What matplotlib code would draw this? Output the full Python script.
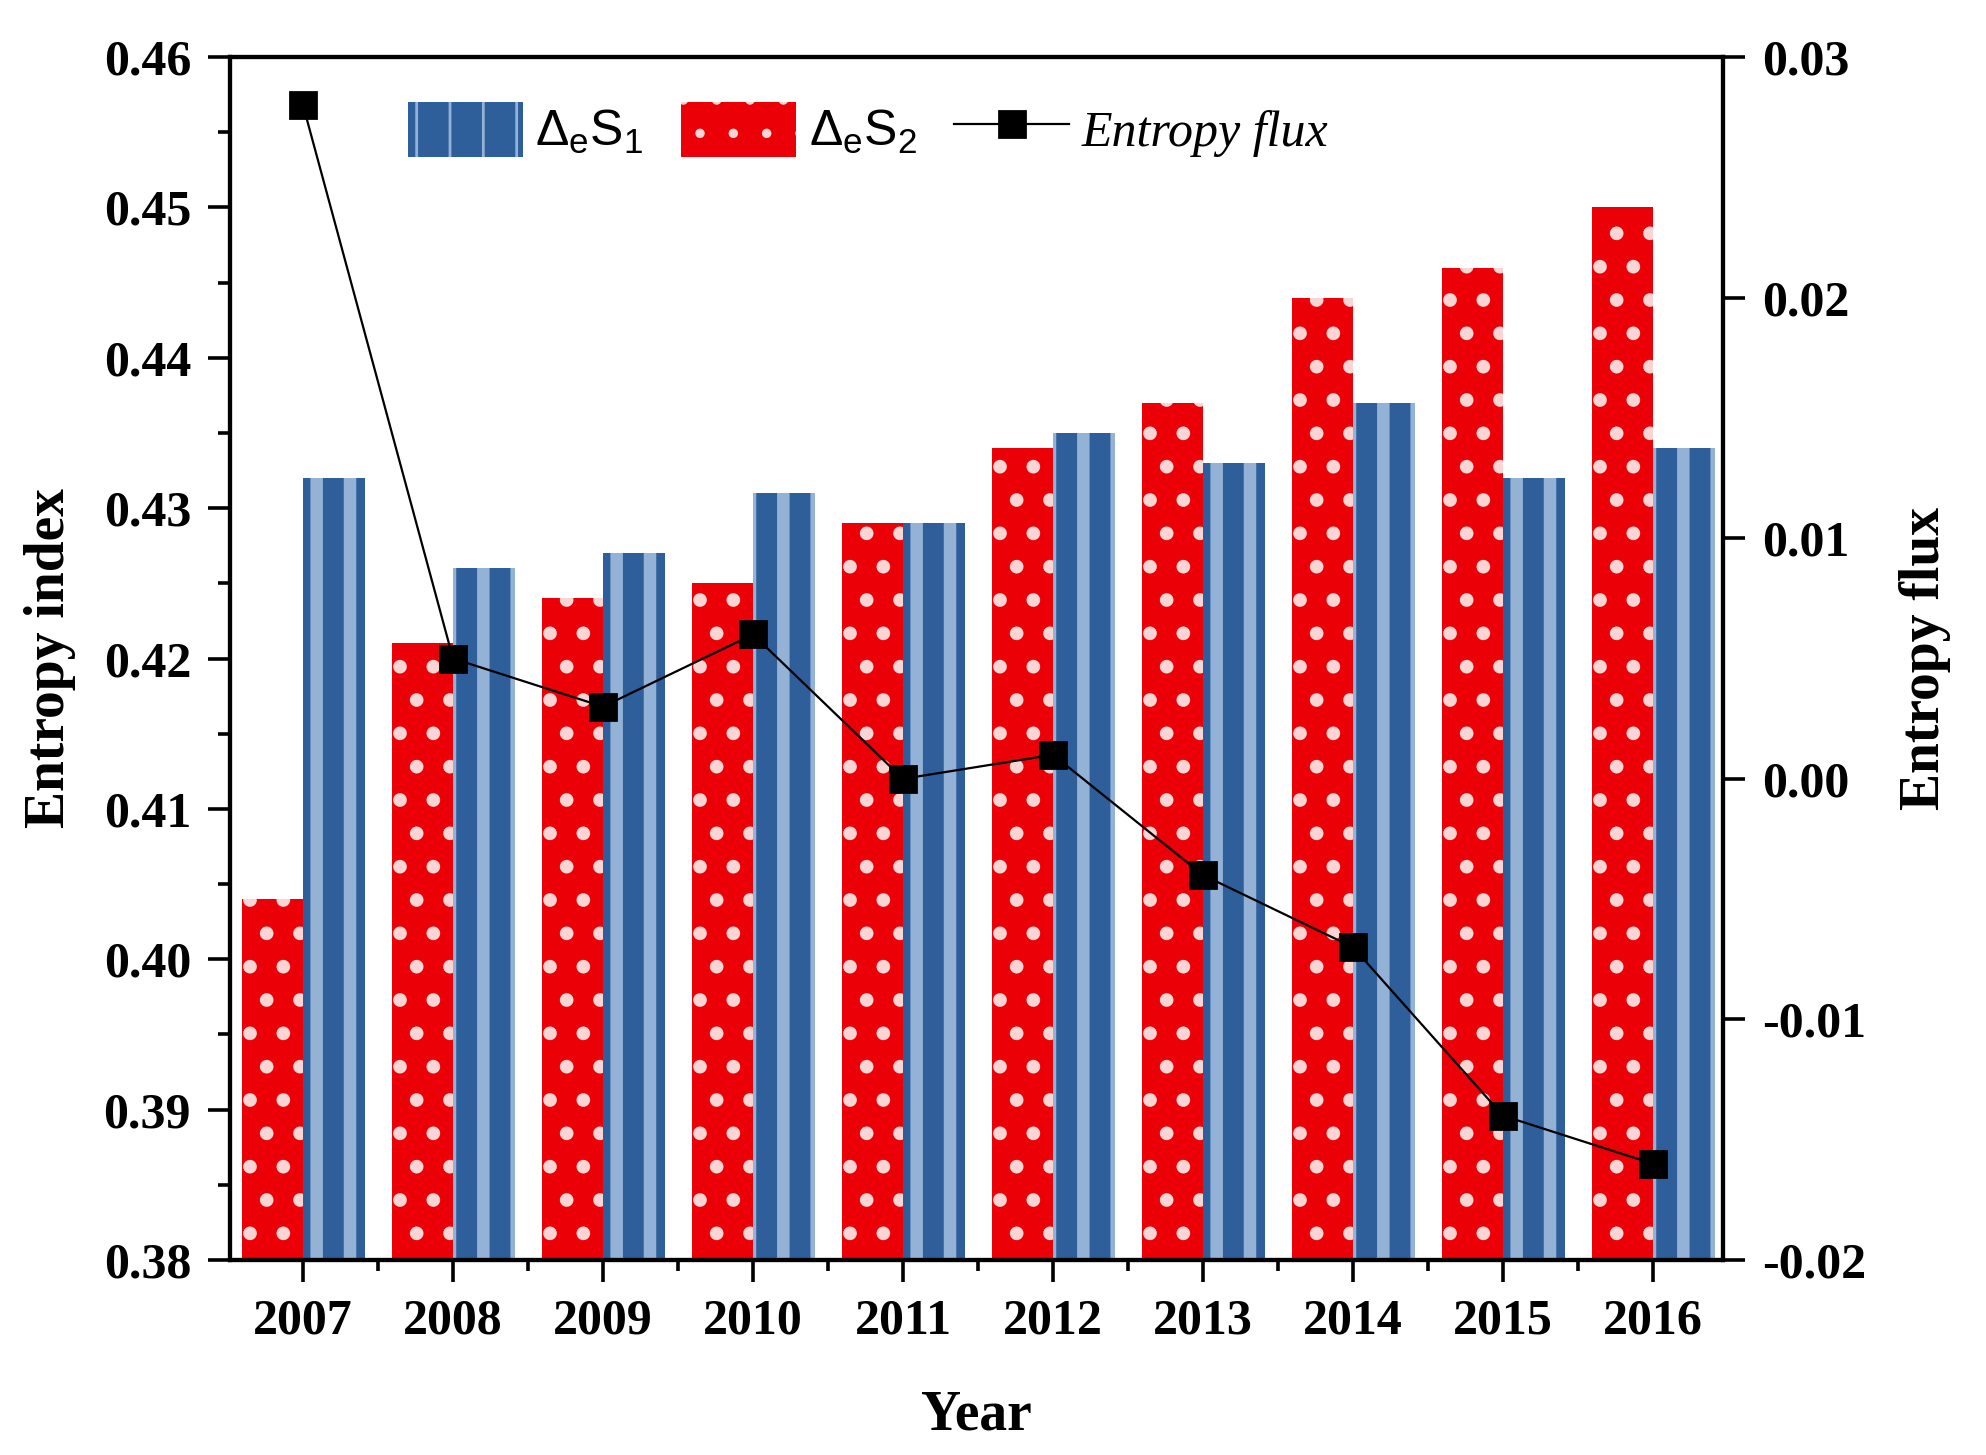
import numpy as np
import matplotlib
matplotlib.use("Agg")
import matplotlib.pyplot as plt
from matplotlib.lines import Line2D
from matplotlib.patches import Patch

# data
years = ["2007", "2008", "2009", "2010", "2011", "2012", "2013", "2014", "2015", "2016"]
des1 = [0.432, 0.426, 0.427, 0.431, 0.429, 0.435, 0.433, 0.437, 0.432, 0.434]
des2 = [0.404, 0.421, 0.424, 0.425, 0.429, 0.434, 0.437, 0.444, 0.446, 0.450]
flux = [0.028, 0.005, 0.003, 0.006, 0.000, 0.001, -0.004, -0.007, -0.014, -0.016]

plt.rcParams['font.family'] = ['Liberation Serif', 'DejaVu Serif']
plt.rcParams['font.weight'] = 'bold'
plt.rcParams['mathtext.fontset'] = 'custom'
plt.rcParams['mathtext.rm'] = 'Liberation Sans:weight=normal'
plt.rcParams['mathtext.it'] = 'Liberation Sans:italic:weight=normal'

blue = '#2e5f9b'
blue_hatch = '#93b2d6'
red = '#ec0008'
dot = '#fbd4d4'

fig = plt.figure(figsize=(9.93, 7.275), dpi=200)
ax = fig.add_axes([0.1158, 0.134, 0.8676 - 0.1158, 0.9608 - 0.134])

x = np.arange(len(years))
w = 0.41
# dotted red bars and striped blue bars (hatch width set at creation)
with plt.rc_context({'hatch.linewidth': 2.5}):
    ax.bar(x - w / 2, des2, width=w, color=red, edgecolor=dot, linewidth=0,
           hatch='.', zorder=2)
    p_red = Patch(facecolor=red, edgecolor=dot, linewidth=0, hatch='.')
with plt.rc_context({'hatch.linewidth': 4.5}):
    ax.bar(x + w / 2, des1, width=w, color=blue, edgecolor=blue_hatch, linewidth=0,
           hatch='|', zorder=2)
    p_blue = Patch(facecolor=blue, edgecolor=blue_hatch, linewidth=0, hatch='|')

ax.set_xlim(-0.487, len(years) - 1 + 0.467)
ax.set_ylim(0.38, 0.46)
ax.set_yticks(np.arange(0.38, 0.4601, 0.01))
ax.set_yticklabels(["%.2f" % v for v in np.arange(0.38, 0.4601, 0.01)])
ax.set_yticks(np.arange(0.385, 0.46, 0.01), minor=True)
ax.set_xticks(x)
ax.set_xticklabels(years)
ax.set_xticks(x[:-1] + 0.5, minor=True)

ax.tick_params(axis='both', which='major', direction='out', length=8,
               width=1.3, labelsize=18, pad=6)
ax.tick_params(axis='y', which='minor', direction='out', length=4.5, width=1.3)
ax.tick_params(axis='x', which='minor', direction='out', length=4, width=1.3)
for s in ax.spines.values():
    s.set_linewidth(1.5)

ax.set_ylabel("Entropy index", fontsize=20, fontweight='bold', labelpad=10)
ax.set_xlabel("Year", fontsize=20, fontweight='bold', labelpad=16)

ax2 = ax.twinx()
ax2.plot(x, flux, color='black', linewidth=0.8, marker='s', markersize=9.5,
         zorder=3)
ax2.set_ylim(-0.02, 0.03)
ax2.set_yticks(np.arange(-0.02, 0.0301, 0.01))
ax2.set_yticklabels(["%.2f" % v if abs(v) > 1e-9 else "0.00"
                     for v in np.arange(-0.02, 0.0301, 0.01)])
ax2.tick_params(axis='y', which='major', direction='out', length=8,
                width=1.3, labelsize=18, pad=6)
ax2.set_ylabel("Entropy flux", fontsize=20, fontweight='bold', labelpad=12)
for s in ax2.spines.values():
    s.set_linewidth(1.5)

handles = [p_blue, p_red,
           Line2D([], [], color='black', linewidth=0.8, marker='s', markersize=9.5)]
labels = [r'$\Delta_{\mathrm{e}}\mathrm{S}_{\mathit{1}}$',
          r'$\Delta_{\mathrm{e}}\mathrm{S}_{2}$',
          'Entropy flux']
leg = ax2.legend(handles, labels, loc='upper left', bbox_to_anchor=(0.089, 1.0),
                 ncol=3, frameon=False, prop={'size': 18, 'weight': 'normal'},
                 handlelength=2.3, handleheight=1.3, handletextpad=0.25,
                 columnspacing=0.75)
t = leg.get_texts()[2]
t.set_fontfamily('Liberation Serif')
t.set_fontstyle('italic')

fig.savefig("out.png", dpi=200)
